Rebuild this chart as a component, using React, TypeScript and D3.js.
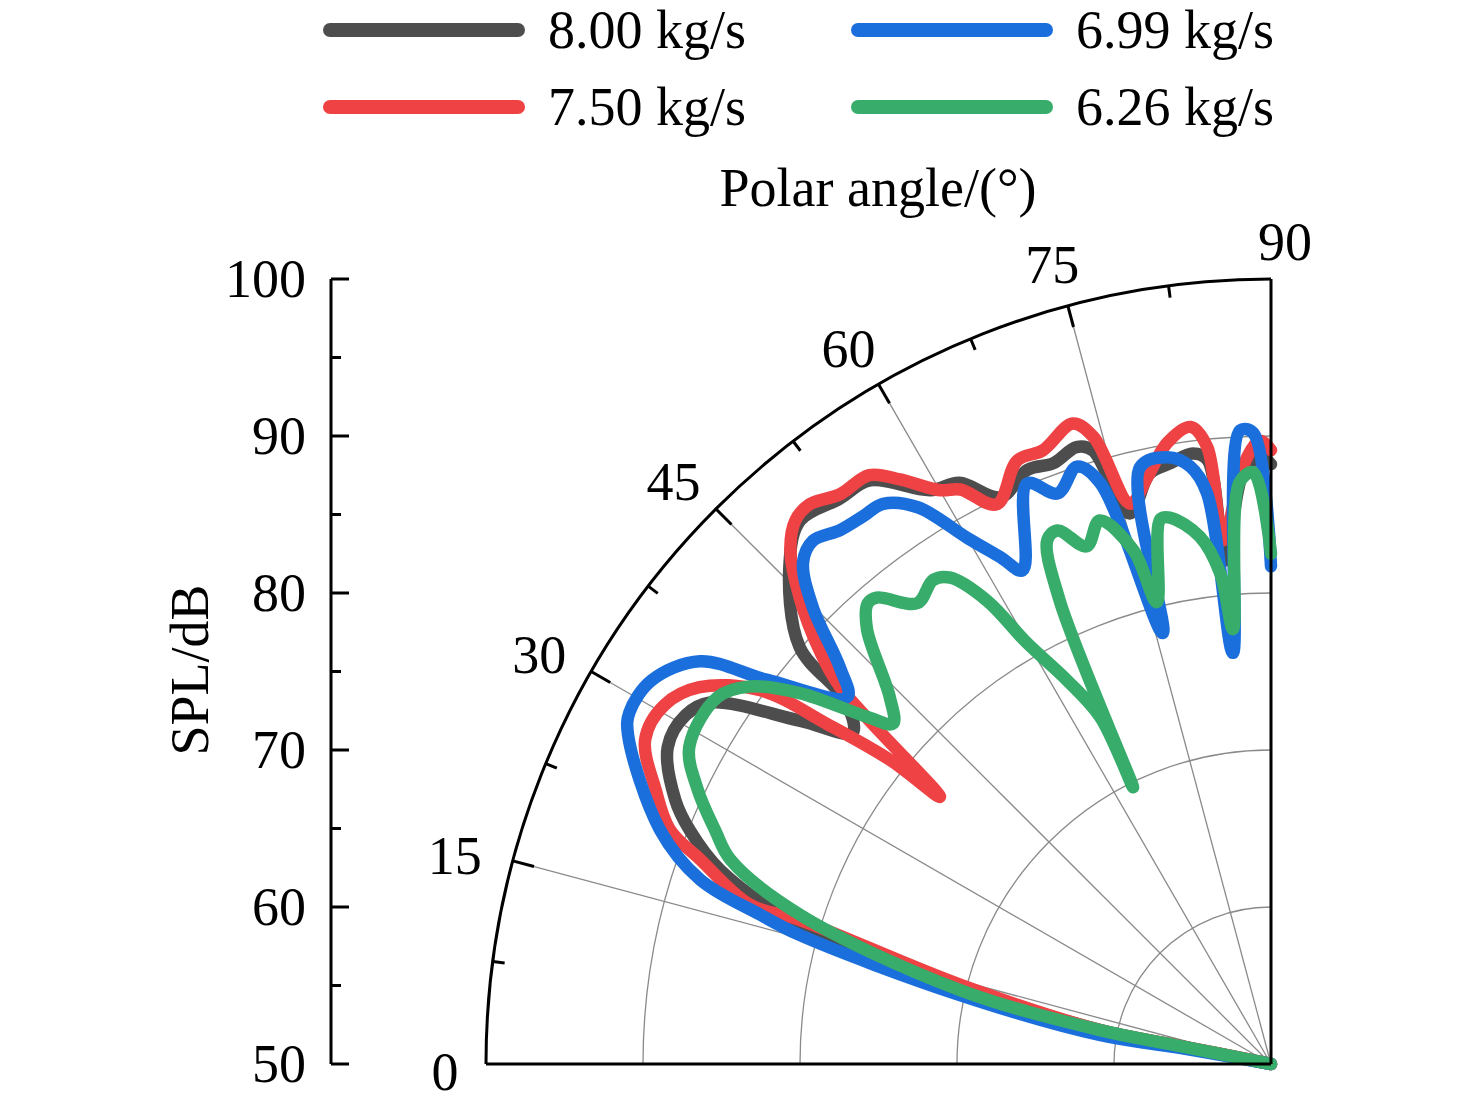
import * as d3 from 'd3'

type P = [number, number] // [polar angle (deg), SPL (dB)]

const gray800: P[] = [
  [0, 50], [11.2, 55.9], [11.2, 61.1], [14, 70.2], [16.4, 81.3], [19.4, 87.2], [21.9, 89.9], [23.9, 91.5],
  [27.7, 93.4], [30.8, 93.4], [32.8, 92.5], [36.1, 87.1], [38.4, 84], [40.5, 85.7],
  [41.5, 90.1], [46.2, 94.3], [49.1, 95.8], [52.6, 95.3], [55.5, 95.1], [59.3, 92.5],
  [61.8, 92], [64.5, 90], [67.7, 90.9], [70.1, 90.7], [72.5, 91.2], [73.8, 90.7],
  [75.6, 86.2], [78.4, 88.4], [80.5, 88.8], [82.7, 89.2], [84, 88.7], [84.8, 82.2],
  [87.3, 87.7], [89, 88.7], [90, 88.2],
]

const red750: P[] = [
  [0, 50], [11.2, 55.9], [11.2, 61.1], [14.3, 70.4], [17, 81.4], [17, 84.7], [19.7, 88.6], [21.3, 91.1], [24, 92.9],
  [27.4, 94.9], [30.6, 94.9], [33.4, 93.6], [36.2, 90.3], [37.5, 85.4], [38.6, 81],
  [38.9, 77.1], [41.2, 86.5], [42.5, 89], [44.6, 92.1], [46.9, 94.8], [48.8, 96],
  [50.5, 96.2], [52.9, 95.5], [55.7, 95.4], [57.6, 94.1], [60, 92.2], [61.6, 91.6],
  [63.9, 89.7], [67.2, 91.7], [69.6, 91.7], [72.8, 92.7], [74.2, 91.5], [75.9, 86.8],
  [78.1, 88.2], [80.5, 90.1], [82.8, 90.9], [84.1, 89.5], [84.8, 83.5], [87.3, 88.1],
  [89, 89.7], [90, 89.1],
]

const blue699: P[] = [
  [0, 50], [10, 56], [9.6, 61], [12.5, 70.3], [15.3, 81.1], [16.3, 83.9], [17.9, 88.2], [21, 91.7],
  [27.1, 96], [28.7, 96.6], [31.8, 96.4], [35.2, 94.5], [37.3, 90.4], [40.9, 85.7],
  [42.6, 87.3], [44.9, 91.2], [47, 93.7], [48.8, 94.3], [51.1, 93.7], [53.3, 93.5],
  [55.3, 93.4], [57.6, 92], [60, 88.7], [61.9, 86.6], [63.3, 85.2], [67.2, 90.1],
  [69.5, 88.8], [72, 90], [73.6, 88.6], [75.9, 78.3], [77.6, 88.9], [80.3, 89.2],
  [82.3, 88.4], [83.6, 86.6], [84.7, 76.3], [87.2, 90.4], [88.4, 90.2], [90, 81.7],
]

const green626: P[] = [
  [0, 50], [11.2, 55.9], [11.2, 61.1], [13.4, 70.4], [17.6, 81.5], [20.7, 86.8], [22.8, 88.4],
  [25.6, 90.5], [28.6, 92.2], [33.5, 92.3], [35.9, 91], [38.2, 88.2], [40.7, 83.9],
  [42, 82.4], [43.9, 83.7], [47.1, 87.8], [48.8, 89], [49.8, 88.9], [52.5, 87],
  [55.1, 87.6], [56.6, 87.1], [58.5, 84.6], [59.9, 81], [62, 77.7], [63.8, 74.6],
  [63.5, 69.7], [65.5, 82.5], [66.9, 86.3], [68.2, 86.6], [70.4, 85], [72.5, 86.3],
  [75, 83.9], [76.1, 80.3], [78.5, 85.4], [79.5, 85.4], [82.3, 83.9], [84.1, 81.4],
  [85, 77.8], [86.9, 87.1], [88.3, 87.7], [90, 82.5],
]

const series = [
  { name: '8.00 kg/s', color: '#4d4d4d', data: gray800 },
  { name: '7.50 kg/s', color: '#ee4244', data: red750 },
  { name: '6.99 kg/s', color: '#1b6fdc', data: blue699 },
  { name: '6.26 kg/s', color: '#38ac6a', data: green626 },
]

const splTicks = [50, 60, 70, 80, 90, 100]
const splMinor = [55, 65, 75, 85, 95]
const angleTicks = [0, 15, 30, 45, 60, 75, 90]
const angleMinor = [7.5, 22.5, 37.5, 52.5, 67.5, 82.5]
const gridSpl = [60, 70, 80, 90]

const W = 1476
const H = 1107
const cx = 1271
const cy = 1064
const R = 785
const fs = 54
const font = '"Liberation Serif", "Times New Roman", serif'

export default function App() {
  const r = d3.scaleLinear().domain([50, 100]).range([0, R])
  const yAxis = d3.scaleLinear().domain([50, 100]).range([cy, cy - R])
  const rad = (deg: number) => (deg * Math.PI) / 180
  const pt = (deg: number, rr: number): [number, number] => [
    cx - rr * Math.cos(rad(deg)),
    cy - rr * Math.sin(rad(deg)),
  ]
  const line = d3
    .lineRadial<P>()
    .angle((d) => rad(d[0] - 90))
    .radius((d) => r(d[1]))
    .curve(d3.curveCatmullRom.alpha(0.5))
  const quarter = (rr: number) =>
    d3.arc()({ innerRadius: rr, outerRadius: rr, startAngle: -Math.PI / 2, endAngle: 0 } as any) || ''

  return (
    <svg width={W} height={H} style={{ display: 'block', margin: -8 }} fontFamily={font}>
      <rect width={W} height={H} fill="white" />
      {/* grid */}
      <g transform={`translate(${cx},${cy})`}>
        {gridSpl.map((v) => (
          <path key={v} d={quarter(r(v))} fill="none" stroke="#8a8a8a" strokeWidth={1.3} />
        ))}
      </g>
      {angleTicks.slice(1, -1).map((a) => {
        const [x, y] = pt(a, R)
        return <line key={a} x1={cx} y1={cy} x2={x} y2={y} stroke="#8a8a8a" strokeWidth={1.3} />
      })}
      {/* series */}
      <g transform={`translate(${cx},${cy})`}>
        {series.map((s) => (
          <path
            key={s.name}
            d={line(s.data) || ''}
            fill="none"
            stroke={s.color}
            strokeWidth={12.5}
            strokeLinejoin="round"
            strokeLinecap="round"
          />
        ))}
      </g>
      {/* frame */}
      <g transform={`translate(${cx},${cy})`}>
        <path d={quarter(R)} fill="none" stroke="black" strokeWidth={3} />
      </g>
      <line x1={cx - R} y1={cy} x2={cx} y2={cy} stroke="black" strokeWidth={3} />
      <line x1={cx} y1={cy} x2={cx} y2={cy - R} stroke="black" strokeWidth={3} />
      {angleTicks.map((a) => {
        const [x1, y1] = pt(a, R)
        const [x2, y2] = pt(a, R - 22)
        const [tx, ty] = pt(a, R + 50)
        return (
          <g key={a}>
            {a > 0 && a < 90 && <line x1={x1} y1={y1} x2={x2} y2={y2} stroke="black" strokeWidth={3} />}
            <text
              x={a === 0 ? 445 : a === 90 ? 1285 : tx - 10 * Math.cos(rad(a))}
              y={a === 0 ? 1072 : a === 90 ? 242 : ty + 8}
              fontSize={fs}
              textAnchor="middle"
              dominantBaseline="central"
            >
              {a}
            </text>
          </g>
        )
      })}
      {angleMinor.map((a) => {
        const [x1, y1] = pt(a, R)
        const [x2, y2] = pt(a, R - 12)
        return <line key={a} x1={x1} y1={y1} x2={x2} y2={y2} stroke="black" strokeWidth={3} />
      })}
      <text x={878} y={188} fontSize={fs} textAnchor="middle" dominantBaseline="central">
        Polar angle/(°)
      </text>
      {/* left SPL axis */}
      <line x1={331} y1={yAxis(50)} x2={331} y2={yAxis(100)} stroke="black" strokeWidth={3} />
      {splTicks.map((v) => (
        <g key={v}>
          <line x1={331} y1={yAxis(v)} x2={349} y2={yAxis(v)} stroke="black" strokeWidth={3} />
          <text x={306} y={yAxis(v)} fontSize={fs} textAnchor="end" dominantBaseline="central">
            {v}
          </text>
        </g>
      ))}
      {splMinor.map((v) => (
        <line key={v} x1={331} y1={yAxis(v)} x2={341} y2={yAxis(v)} stroke="black" strokeWidth={3} />
      ))}
      <text transform="translate(190,670) rotate(-90)" fontSize={fs} textAnchor="middle" dominantBaseline="central">
        SPL/dB
      </text>
      {/* legend */}
      {series.map((s, i) => {
        const col = i < 2 ? 0 : 1
        const row = i % 2
        const x0 = 330 + col * 528
        const y0 = 30 + row * 77
        return (
          <g key={s.name}>
            <line x1={x0} y1={y0} x2={x0 + 188} y2={y0} stroke={s.color} strokeWidth={14} strokeLinecap="round" />
            <text x={x0 + 218} y={y0} fontSize={fs} dominantBaseline="central">
              {s.name}
            </text>
          </g>
        )
      })}
    </svg>
  )
}
